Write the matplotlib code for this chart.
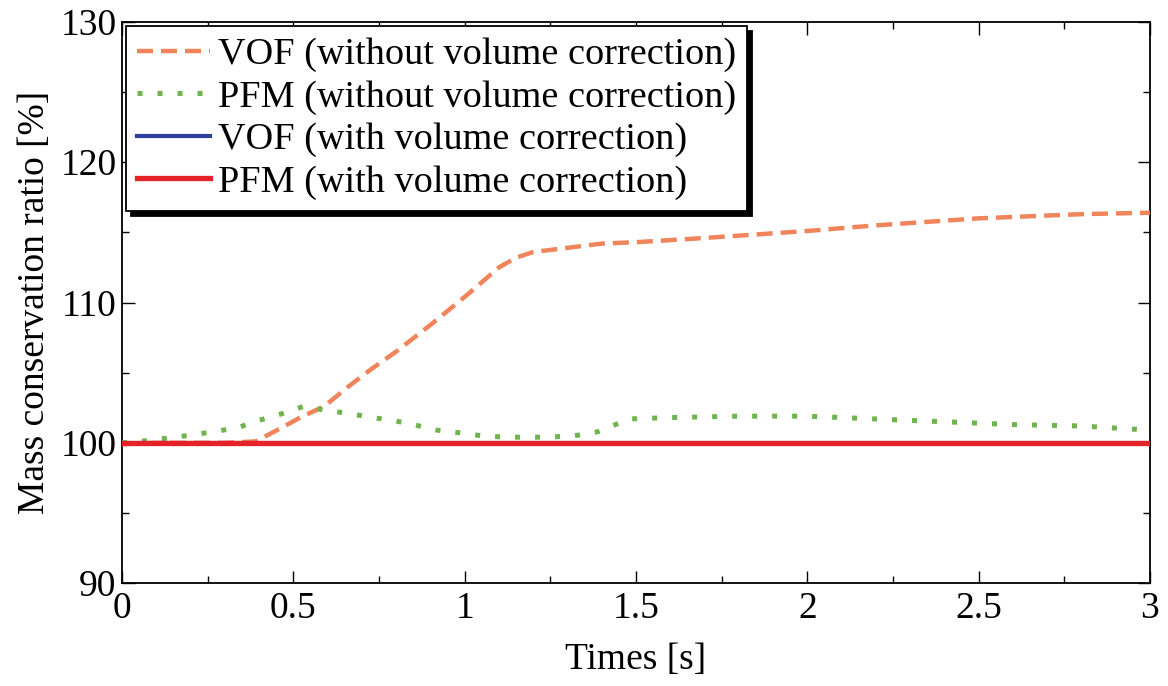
import matplotlib
matplotlib.use('Agg')
import matplotlib.pyplot as plt
from matplotlib.ticker import MultipleLocator

plt.rcParams['font.family'] = ['Liberation Serif', 'DejaVu Serif']

# VOF without volume correction
vof_t = [0.0, 0.1, 0.2, 0.3, 0.39, 0.46, 0.52, 0.59, 0.66, 0.73, 0.8, 0.9,
         1.0, 1.1, 1.15, 1.2, 1.3, 1.4, 1.5, 1.7, 2.0, 2.2, 2.5, 2.8, 3.0]
vof_m = [99.9, 100.0, 100.0, 100.0, 100.1, 101.0, 101.8, 102.6, 104.0, 105.3, 106.5, 108.4,
         110.4, 112.5, 113.2, 113.6, 113.9, 114.2, 114.3, 114.6, 115.1, 115.5, 116.0, 116.3, 116.4]

# PFM without volume correction
pfm_t = [0.0, 0.07, 0.14, 0.2, 0.27, 0.34, 0.4, 0.47, 0.53, 0.6, 0.66, 0.73, 0.79,
         0.85, 0.92, 0.99, 1.05, 1.12, 1.24, 1.32, 1.39, 1.48, 1.6, 1.8, 2.0,
         2.2, 2.4, 2.6, 2.8, 3.0]
pfm_m = [100.0, 100.15, 100.35, 100.55, 100.8, 101.1, 101.6, 102.1, 102.6, 102.3, 102.1, 101.8, 101.6,
         101.3, 100.9, 100.7, 100.5, 100.4, 100.4, 100.5, 100.8, 101.7, 101.8, 101.9, 101.9,
         101.7, 101.5, 101.3, 101.2, 100.9]

# with volume correction: both stay at 100 %
corr_t = [0.0, 3.0]
vof_corr = [100.0, 100.0]
pfm_corr = [100.0, 100.0]

fig = plt.figure(figsize=(11.68, 6.86), dpi=100)
ax = fig.add_axes([0.1045, 0.150, 0.880, 0.818])

ax.plot(vof_t, vof_m, color='#f0845a', lw=3.2, dashes=(3.6, 1.8),
        label='VOF (without volume correction)', zorder=3)
ax.plot(pfm_t, pfm_m, color='#6fb44c', lw=3.6, dashes=(1.0, 3.0),
        label='PFM (without volume correction)', zorder=3)
ax.plot(corr_t, vof_corr, color='#2c3f9a', lw=3.0,
        label='VOF (with volume correction)', zorder=4)
ax.plot(corr_t, pfm_corr, color='#e52228', lw=3.8,
        label='PFM (with volume correction)', zorder=5)

ax.set_xlim(0, 3)
ax.set_ylim(90, 130)
ax.xaxis.set_ticks([0, 0.5, 1, 1.5, 2, 2.5, 3])
ax.set_xticklabels(['0', '0.5', '1', '1.5', '2', '2.5', '3'])
ax.xaxis.set_minor_locator(MultipleLocator(0.25))
ax.yaxis.set_major_locator(MultipleLocator(10))
ax.yaxis.set_minor_locator(MultipleLocator(5))

ax.tick_params(which='both', direction='in', top=True, right=True, width=1.0)
ax.tick_params(which='major', length=9, labelsize=27)
ax.tick_params(axis='x', which='major', pad=6)
ax.tick_params(axis='y', which='major', pad=4)
ax.tick_params(which='minor', length=5)
for s in ax.spines.values():
    s.set_linewidth(1.3)

ax.set_xlabel('Times [s]', fontsize=27, labelpad=12)
ax.set_ylabel('Mass conservation ratio [%]', fontsize=27, labelpad=6)

leg = ax.legend(loc='upper left', fontsize=27.5, frameon=True, fancybox=False,
                shadow={'color': 'black', 'alpha': 1.0, 'ox': 3.5, 'oy': -3.5},
                borderaxespad=0.1, handlelength=1.9, handletextpad=0.2,
                labelspacing=0.2, borderpad=0.3)
leg.get_frame().set_edgecolor('black')
leg.get_frame().set_linewidth(1.3)

fig.savefig('out.png', dpi=100)
